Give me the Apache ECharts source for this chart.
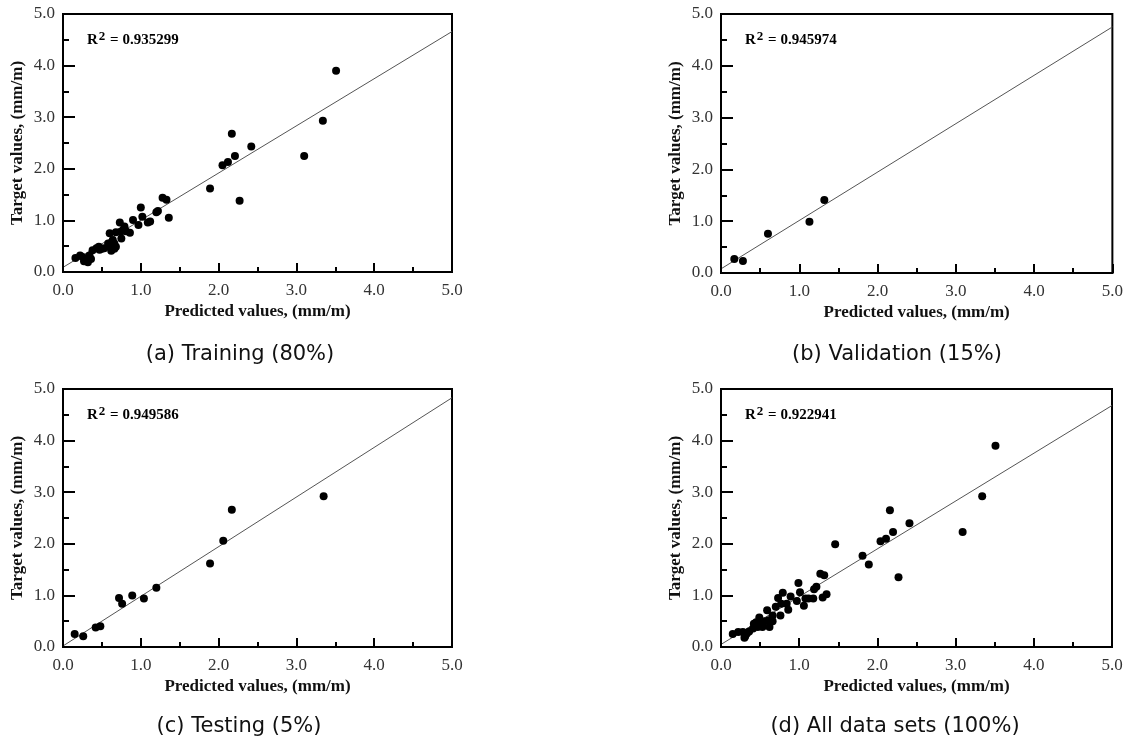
<!DOCTYPE html>
<html>
<head>
<meta charset="utf-8">
<script src="https://cdn.jsdelivr.net/npm/echarts@6/dist/echarts.min.js"></script>
<style>
html,body{margin:0;padding:0;background:#fff;}
#chart{width:1126px;height:746px;}
</style>
</head>
<body>
<div id="chart"></div>
<script>
// ---- data (predicted, target) ----
const trainingPts = [[0.16,0.27],[0.22,0.32],[0.25,0.29],[0.27,0.21],[0.30,0.26],[0.32,0.19],[0.34,0.32],[0.36,0.25],[0.38,0.42],[0.43,0.46],[0.46,0.49],[0.47,0.43],[0.50,0.45],[0.53,0.46],[0.58,0.55],[0.59,0.52],[0.60,0.75],[0.62,0.41],[0.64,0.62],[0.66,0.45],[0.66,0.55],[0.68,0.77],[0.68,0.49],[0.73,0.96],[0.74,0.78],[0.75,0.65],[0.77,0.81],[0.79,0.88],[0.81,0.79],[0.86,0.76],[0.90,1.01],[0.97,0.91],[1.00,1.25],[1.02,1.07],[1.09,0.96],[1.12,0.98],[1.20,1.16],[1.22,1.18],[1.28,1.44],[1.33,1.40],[1.36,1.05],[1.89,1.62],[2.05,2.07],[2.12,2.13],[2.17,2.68],[2.21,2.25],[2.27,1.38],[2.42,2.43],[3.10,2.25],[3.34,2.93],[3.51,3.90]];
const validationPts = [[0.17,0.27],[0.28,0.23],[0.60,0.76],[1.13,0.99],[1.32,1.41]];
const testingPts = [[0.15,0.25],[0.26,0.21],[0.42,0.38],[0.48,0.40],[0.72,0.95],[0.76,0.84],[0.89,1.00],[1.04,0.94],[1.20,1.15],[1.89,1.62],[2.06,2.06],[2.17,2.66],[3.35,2.92]];
const allPts = [[0.15,0.25],[0.22,0.29],[0.28,0.29],[0.30,0.18],[0.31,0.21],[0.33,0.26],[0.36,0.30],[0.41,0.36],[0.42,0.45],[0.45,0.48],[0.47,0.39],[0.49,0.57],[0.53,0.39],[0.53,0.48],[0.56,0.50],[0.59,0.71],[0.61,0.52],[0.62,0.39],[0.66,0.61],[0.66,0.50],[0.70,0.78],[0.73,0.95],[0.76,0.61],[0.77,0.84],[0.79,1.05],[0.84,0.84],[0.86,0.72],[0.89,0.98],[0.97,0.89],[0.99,1.24],[1.01,1.06],[1.06,0.80],[1.08,0.94],[1.12,0.94],[1.18,0.94],[1.19,1.12],[1.22,1.17],[1.27,1.42],[1.30,0.96],[1.32,1.39],[1.35,1.02],[1.46,1.99],[1.81,1.77],[1.89,1.60],[2.04,2.05],[2.11,2.10],[2.16,2.65],[2.20,2.23],[2.27,1.35],[2.41,2.40],[3.09,2.23],[3.34,2.92],[3.51,3.90]];

// fitted line end points (x=0 and x=5)
const fitTraining   = [[0, 0.09], [5, 4.66]];
const fitValidation = [[0, 0.08], [5, 4.75]];
const fitTesting    = [[0, 0.02], [5, 4.83]];
const fitAll        = [[0, 0.05], [5, 4.68]];

const r2Values = ['0.935299', '0.945974', '0.949586', '0.922941'];
const captions = ['(a) Training (80%)', '(b) Validation (15%)', '(c) Testing (5%)', '(d) All data sets (100%)'];
const tickLabels = ['0.0', '1.0', '2.0', '3.0', '4.0', '5.0'];
const xName = 'Predicted values, (mm/m)';
const yName = 'Target values, (mm/m)';

const panels = [
  {pts: trainingPts,   fit: fitTraining,   left: 63,  top: 14,  width: 389, height: 258},
  {pts: validationPts, fit: fitValidation, left: 721, top: 14,  width: 392, height: 259},
  {pts: testingPts,    fit: fitTesting,    left: 63,  top: 389, width: 389, height: 258},
  {pts: allPts,        fit: fitAll,        left: 721, top: 389, width: 391, height: 258}
];
const captionCenters = [[235, 353], [892, 353], [234, 725], [890, 725]];

const serif = 'Liberation Serif';
const grids = [], xAxes = [], yAxes = [], series = [], titles = [];

panels.forEach((p, i) => {
  grids.push({left: p.left, top: p.top, width: p.width, height: p.height,
    show: true, borderColor: '#000', borderWidth: 2, containLabel: false});
  const labelFmt = v => tickLabels[Math.round(v)] !== undefined ? tickLabels[Math.round(v)] : '';
  xAxes.push({type: 'value', gridIndex: i, min: 0, max: 5, interval: 1, z: 5,
    name: xName, nameLocation: 'middle', nameGap: 31,
    nameTextStyle: {fontFamily: serif, fontWeight: 'bold', fontSize: 17, color: '#111'},
    axisLine: {show: true, onZero: false, lineStyle: {color: '#000', width: 2}},
    axisTick: {show: true, inside: true, length: 9, lineStyle: {color: '#000', width: 2}},
    minorTick: {show: true, splitNumber: 2, length: 5, lineStyle: {color: '#000', width: 2}},
    splitLine: {show: false},
    axisLabel: {formatter: labelFmt, fontFamily: serif, fontSize: 17, color: '#333', margin: 10}
  });
  yAxes.push({type: 'value', gridIndex: i, min: 0, max: 5, interval: 1, z: 5,
    name: yName, nameLocation: 'middle', nameGap: 37,
    nameTextStyle: {fontFamily: serif, fontWeight: 'bold', fontSize: 17, color: '#111'},
    axisLine: {show: true, onZero: false, lineStyle: {color: '#000', width: 2}},
    axisTick: {show: true, inside: true, length: 12, lineStyle: {color: '#000', width: 2}},
    minorTick: {show: true, splitNumber: 2, length: 6, lineStyle: {color: '#000', width: 2}},
    splitLine: {show: false},
    axisLabel: {formatter: labelFmt, fontFamily: serif, fontSize: 17, color: '#333', margin: 8}
  });
  series.push({type: 'line', xAxisIndex: i, yAxisIndex: i, data: p.fit, symbol: 'none',
    lineStyle: {color: '#555', width: 1}, silent: true, animation: false, z: 2, clip: true});
  series.push({type: 'scatter', xAxisIndex: i, yAxisIndex: i, data: p.pts, symbol: 'circle',
    symbolSize: 8, itemStyle: {color: '#000', opacity: 1}, animation: false, z: 3});
  titles.push({text: '{r|R}{s|2}{r| = ' + r2Values[i] + '}', left: p.left + 19, top: p.top + 12,
    textStyle: {rich: {
      r: {fontFamily: serif, fontWeight: 'bold', fontSize: 15, color: '#000', lineHeight: 18},
      s: {fontFamily: serif, fontWeight: 'bold', fontSize: 13, color: '#000', lineHeight: 18, padding: [0, 1, 6, 1]}
    }}});
  titles.push({text: captions[i], left: captionCenters[i][0], top: captionCenters[i][1] - 14,
    textAlign: 'center',
    textStyle: {fontFamily: 'DejaVu Sans', fontWeight: 'normal', fontSize: 21, color: '#111'}});
});

const chart = echarts.init(document.getElementById('chart'), null, {renderer: 'canvas'});
chart.setOption({
  backgroundColor: '#fff',
  animation: false,
  title: titles,
  grid: grids,
  xAxis: xAxes,
  yAxis: yAxes,
  series: series
});
</script>
</body>
</html>
